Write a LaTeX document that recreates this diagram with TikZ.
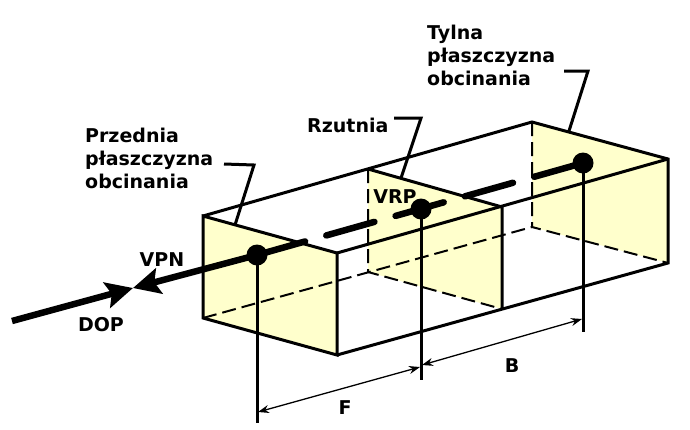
\documentclass[tikz,border=0pt]{standalone}
\usepackage{fontspec}
\setmainfont{DejaVu Sans}
\usetikzlibrary{arrows.meta}
\definecolor{planefill}{HTML}{FFFFCC}
\tikzset{
  edge/.style={line width=3pt},
  hidden/.style={line width=2pt,dash pattern=on 14pt off 6pt},
  label/.style={font=\fontsize{19}{23}\selectfont\bfseries,inner sep=0pt,align=left},
  pointdot/.style={circle,fill=black,inner sep=0pt,minimum size=21pt},
  thickarrow/.style={line width=6.5pt,-{Stealth[length=27pt,width=26pt,inset=5pt]}},
  dimarrow/.style={line width=1.3pt,{Stealth[length=11pt,width=8pt]}-{Stealth[length=11pt,width=8pt]}}
}
\begin{document}
\begin{tikzpicture}[x=1pt,y=-1pt]
  \useasboundingbox (0,0) rectangle (690,429);
  % Corners of the three planes
  \coordinate (ftl) at (203,216);
  \coordinate (ftr) at (337,253);
  \coordinate (fbr) at (337,355);
  \coordinate (fbl) at (203,318);
  \coordinate (mtl) at (368,169);
  \coordinate (mtr) at (502,207);
  \coordinate (mbr) at (502,309);
  \coordinate (mbl) at (368,272);
  \coordinate (btl) at (532,122);
  \coordinate (btr) at (668,159);
  \coordinate (bbr) at (668,263);
  \coordinate (bbl) at (532,227);

  % Plane fills
  \fill[planefill] (ftl) -- (ftr) -- (fbr) -- (fbl) -- cycle;
  \fill[planefill] (mtl) -- (mtr) -- (mbr) -- (mbl) -- cycle;
  \fill[planefill] (btl) -- (btr) -- (bbr) -- (bbl) -- cycle;

  % Hidden edges
  \draw[hidden] (fbl) -- (bbl);
  \draw[hidden] (mtl) -- (mbl) -- (mbr);
  \draw[hidden] (btl) -- (bbl) -- (bbr);

  % Visible edges
  \draw[edge] (ftl) -- (ftr) -- (fbr) -- (fbl) -- cycle;
  \draw[edge] (ftl) -- (btl) -- (btr) -- (bbr) -- (fbr);
  \draw[edge] (ftr) -- (btr);
  \draw[edge] (mtl) -- (mtr) -- (mbr);

  % Points on the axis
  \node[pointdot] (front) at (257,255) {};
  \node[pointdot] (vrp) at (421,209) {};
  \node[pointdot] (back) at (583,163) {};
  \draw[line width=6.5pt,line cap=round,dash pattern=on 50pt off 22pt] (front.center) -- (back.center);

  % VPN and DOP arrows
  \coordinate (tip) at (133,288);
  \coordinate (dopstart) at (12,321);
  \draw[thickarrow] (front.center) -- (tip);
  \draw[thickarrow] (dopstart) -- (tip);

  % Dimension lines
  \coordinate (fend) at (257,423);
  \coordinate (vend) at (421,380);
  \coordinate (bend) at (583,332);
  \coordinate (fa) at (258,412);
  \coordinate (fb) at (420,367);
  \coordinate (ba) at (422,365);
  \coordinate (bb) at (582,319);
  \draw[edge] (front.center) -- (fend);
  \draw[edge] (vrp.center) -- (vend);
  \draw[edge] (back.center) -- (bend);
  \draw[dimarrow] (fa) -- (fb);
  \draw[dimarrow] (ba) -- (bb);

  % Labels
  \node[label,anchor=west] (przednia) at (85,158) {Przednia\\płaszczyzna\\obcinania};
  \node[label,anchor=west] (rzutnia) at (307,125) {Rzutnia};
  \node[label,anchor=west] (tylna) at (427,55) {Tylna\\płaszczyzna\\obcinania};
  \node[label] (vrplabel) at (395,197) {VRP};
  \node[label] (vpn) at (162,260) {VPN};
  \node[label] (dop) at (101,325) {DOP};
  \node[label] (flabel) at (345,408) {F};
  \node[label] (blabel) at (512,366) {B};

  % Leaders
  \coordinate (pa) at (224,164);
  \coordinate (pb) at (254,165);
  \coordinate (pc) at (235,225);
  \coordinate (ra) at (394,118);
  \coordinate (rb) at (421,118);
  \coordinate (rc) at (401,178);
  \coordinate (ta) at (564,71);
  \coordinate (tb) at (588,71);
  \coordinate (tc) at (569,131);
  \draw[edge] (pa) -- (pb) -- (pc);
  \draw[edge] (ra) -- (rb) -- (rc);
  \draw[edge] (ta) -- (tb) -- (tc);
\end{tikzpicture}
\end{document}
